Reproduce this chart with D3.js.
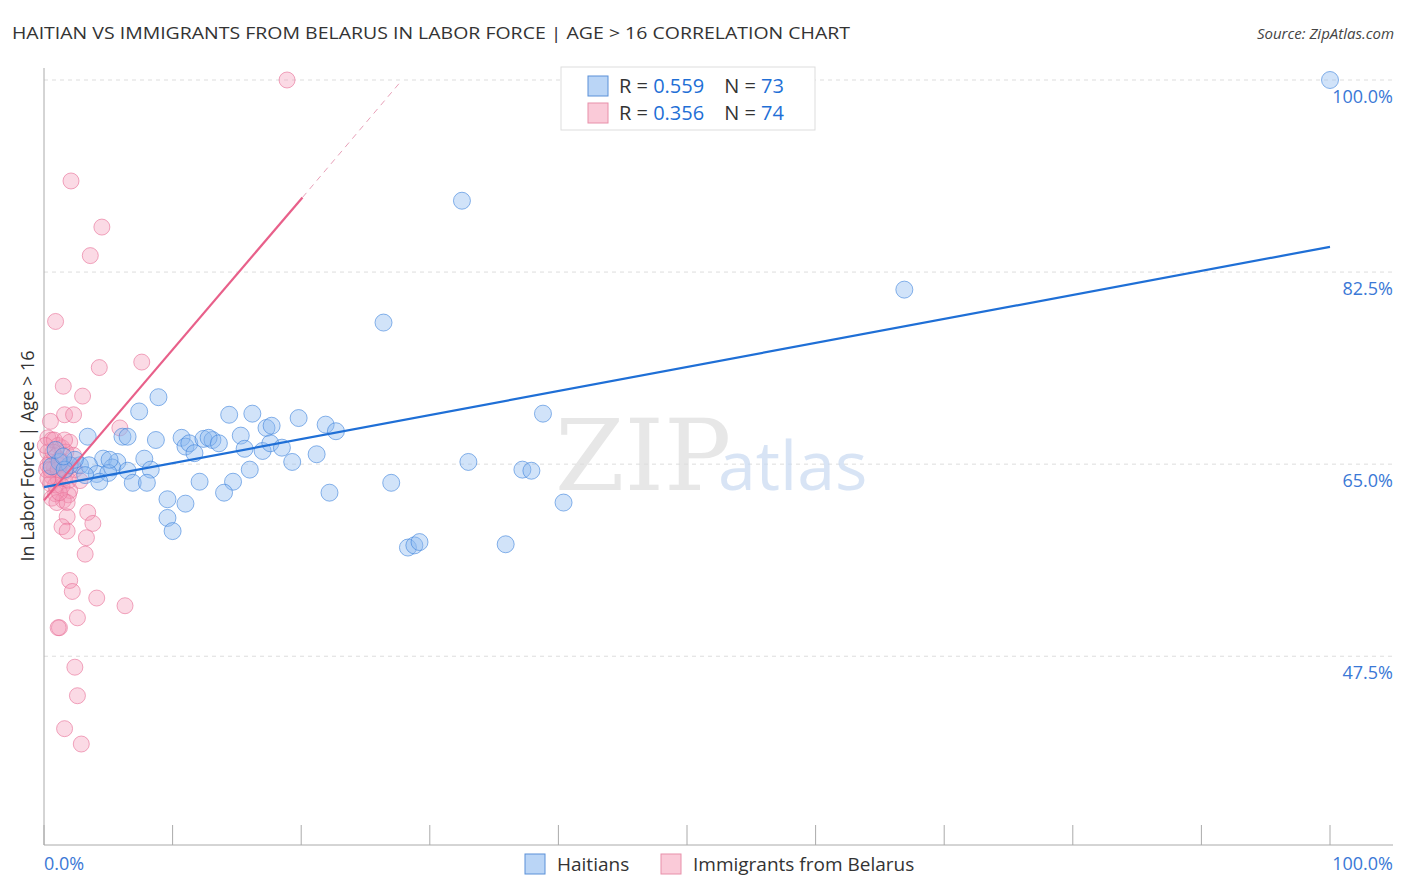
<!DOCTYPE html><html><head><meta charset="utf-8"><script src="https://cdn.jsdelivr.net/npm/d3@7"></script>
<style>body{margin:0;background:#fff;font-family:"Open Sans",sans-serif}</style></head><body><svg id="c" width="1406" height="892"></svg>
<script>
const title="HAITIAN VS IMMIGRANTS FROM BELARUS IN LABOR FORCE | AGE > 16 CORRELATION CHART";
const source="Source: ZipAtlas.com";
const yTicks=[47.5,65.0,82.5,100.0];
const seriesNames=["Haitians","Immigrants from Belarus"];
const stats=[{r:"0.559",n:"73"},{r:"0.356",n:"74"}];
const blue=[[100,100],[32.5,89.0],[66.9,80.9],[26.4,77.9],[8.9,71.1],[7.4,69.8],[3.4,67.5],[6.1,67.5],[6.5,67.5],[8.7,67.2],[10.7,67.4],[11.0,66.6],[11.3,66.9],[12.4,67.3],[13.1,67.2],[12.8,67.4],[13.6,66.9],[14.4,69.5],[16.2,69.6],[15.3,67.6],[15.6,66.4],[17.0,66.2],[17.3,68.3],[17.7,68.5],[17.6,66.9],[18.5,66.5],[19.8,69.2],[21.9,68.6],[22.7,68.0],[21.2,65.9],[19.3,65.2],[11.7,66.0],[7.8,65.5],[4.6,65.5],[5.7,65.2],[5.3,64.7],[6.5,64.4],[8.3,64.5],[2.8,64.9],[3.5,64.9],[4.1,64.1],[5.0,64.2],[4.3,63.4],[6.9,63.3],[8.0,63.3],[12.1,63.4],[14.7,63.4],[14.0,62.4],[16.0,64.5],[9.6,61.8],[11.0,61.4],[9.6,60.1],[10.0,58.9],[22.2,62.4],[27.0,63.3],[33.0,65.2],[37.2,64.5],[37.9,64.4],[38.8,69.6],[40.4,61.5],[28.3,57.4],[28.8,57.6],[29.2,57.9],[35.9,57.7],[2.0,64.9],[1.2,65.2],[0.6,64.8],[2.4,65.4],[1.6,64.5],[3.2,64.0],[5.1,65.4],[0.9,66.3],[1.5,65.7]];
const pink=[[18.9,100],[2.1,90.8],[4.5,86.6],[3.6,84.0],[0.9,78.0],[7.6,74.3],[4.3,73.8],[1.5,72.1],[3.0,71.2],[1.6,69.5],[2.3,69.5],[5.9,68.3],[0.5,68.9],[0.3,67.4],[0.6,67.2],[1.1,66.7],[1.4,66.5],[2.0,67.0],[1.7,66.1],[0.3,66.1],[0.9,65.7],[0.5,65.2],[1.2,64.9],[0.8,64.6],[1.6,64.3],[0.6,63.9],[1.1,63.7],[1.9,63.5],[0.5,63.2],[1.4,63.0],[2.0,62.6],[0.9,62.3],[1.9,62.2],[1.5,61.7],[0.6,61.9],[1.0,61.5],[1.8,61.5],[3.4,60.6],[1.8,60.2],[3.8,59.6],[1.4,59.3],[1.8,58.9],[3.3,58.3],[3.2,56.8],[2.0,54.4],[2.2,53.4],[4.1,52.8],[6.3,52.1],[2.6,51.0],[1.2,50.1],[1.1,50.1],[2.4,46.5],[2.6,43.9],[1.6,40.9],[2.9,39.5],[0.3,64.9],[0.8,67.2],[0.2,64.5],[1.2,65.4],[2.4,64.5],[2.8,63.5],[1.6,67.2],[2.2,64.9],[0.5,64.5],[0.9,63.1],[1.4,65.2],[1.7,64.5],[0.3,63.7],[0.7,66.1],[1.2,62.4],[2.3,65.8],[0.1,66.7],[1.1,64.5],[1.5,63.7]];
const blueTrend=[[0,62.9],[100,84.8]];
const pinkTrend=[[0,61.7],[20.1,89.3]];
const pinkTrendDash=[[20.1,89.3],[27.7,99.8]];

const svg=d3.select("#c");
const x=d3.scaleLinear().domain([0,100]).range([44,1330]);
const y=d3.scaleLinear().domain([30.3,100]).range([845,80]);
svg.append("text").attr("x",12).attr("y",39).attr("font-size",17).attr("textLength",838).attr("lengthAdjust","spacingAndGlyphs").attr("fill","#333").text(title);
svg.append("text").attr("x",1394).attr("y",39).attr("text-anchor","end").attr("font-size",15).attr("font-style","italic").attr("fill","#444").text(source);
yTicks.forEach(t=>{
 svg.append("line").attr("x1",44).attr("x2",1393).attr("y1",y(t)).attr("y2",y(t)).attr("stroke","#ddd").attr("stroke-dasharray","4,4");
 svg.append("text").attr("x",1393).attr("y",y(t)+23).attr("text-anchor","end").attr("font-size",18).attr("fill","#3a78d6").text(t.toFixed(1)+"%");
});
svg.append("line").attr("x1",44).attr("x2",44).attr("y1",68).attr("y2",845).attr("stroke","#aaa");
svg.append("line").attr("x1",44).attr("x2",1393).attr("y1",845).attr("y2",845).attr("stroke","#aaa");
d3.range(0,101,10).forEach(t=>svg.append("line").attr("x1",x(t)).attr("x2",x(t)).attr("y1",825).attr("y2",845).attr("stroke","#aaa"));
svg.append("text").attr("x",44).attr("y",870).attr("font-size",18).attr("fill","#3a78d6").text("0.0%");
svg.append("text").attr("x",1393).attr("y",870).attr("text-anchor","end").attr("font-size",18).attr("fill","#3a78d6").text("100.0%");
svg.append("text").attr("transform","translate(34,456) rotate(-90)").attr("text-anchor","middle").attr("font-size",18).attr("fill","#333").text("In Labor Force | Age > 16");
svg.append("text").attr("x",555).attr("y",490).attr("font-size",100).attr("font-family","DejaVu Serif").attr("fill","#ddd").attr("opacity",0.7).text("ZIP");
svg.append("text").attr("x",718).attr("y",490).attr("font-size",68).attr("fill","#c8daf2").attr("opacity",0.7).text("atlas");
const line=d3.line().x(d=>x(d[0])).y(d=>y(d[1]));
svg.append("g").selectAll("circle").data(pink).join("circle").attr("cx",d=>x(d[0])).attr("cy",d=>y(d[1])).attr("r",8).attr("fill","rgba(244,150,180,0.35)").attr("stroke","rgba(232,110,150,0.6)");
svg.append("g").selectAll("circle").data(blue).join("circle").attr("cx",d=>x(d[0])).attr("cy",d=>y(d[1])).attr("r",8.5).attr("fill","rgba(140,185,240,0.4)").attr("stroke","rgba(60,130,220,0.6)");
svg.append("path").attr("d",line(blueTrend)).attr("stroke","#1f6fd6").attr("stroke-width",2.2).attr("fill","none");
svg.append("path").attr("d",line(pinkTrend)).attr("stroke","#e8608a").attr("stroke-width",2.2).attr("fill","none");
svg.append("path").attr("d",line(pinkTrendDash)).attr("stroke","#e8a0b8").attr("stroke-width",1).attr("stroke-dasharray","6,5").attr("fill","none");
svg.append("rect").attr("x",561).attr("y",67).attr("width",254).attr("height",63).attr("fill","#fff").attr("stroke","#ddd");
const cols=[["rgba(140,185,240,0.6)","#5a90d8"],["rgba(248,180,200,0.7)","#e890aa"]];
stats.forEach((s,i)=>{
 const yy=86+i*27;
 svg.append("rect").attr("x",588).attr("y",yy-10).attr("width",20).attr("height",20).attr("fill",cols[i][0]).attr("stroke",cols[i][1]);
 const t=svg.append("text").attr("x",619).attr("y",yy+7).attr("font-size",20).attr("fill","#333");
 t.append("tspan").text("R = ");t.append("tspan").attr("fill","#1f6fd6").text(s.r);
 t.append("tspan").attr("dx",20).text("N = ");t.append("tspan").attr("fill","#1f6fd6").text(s.n);
});
[[525,seriesNames[0]],[661,seriesNames[1]]].forEach(([lx,n],i)=>{
 svg.append("rect").attr("x",lx).attr("y",854).attr("width",20).attr("height",20).attr("fill",cols[i][0]).attr("stroke",cols[i][1]);
 svg.append("text").attr("x",lx+32).attr("y",871).attr("font-size",19).attr("fill","#333").text(n);
});
</script></body></html>
